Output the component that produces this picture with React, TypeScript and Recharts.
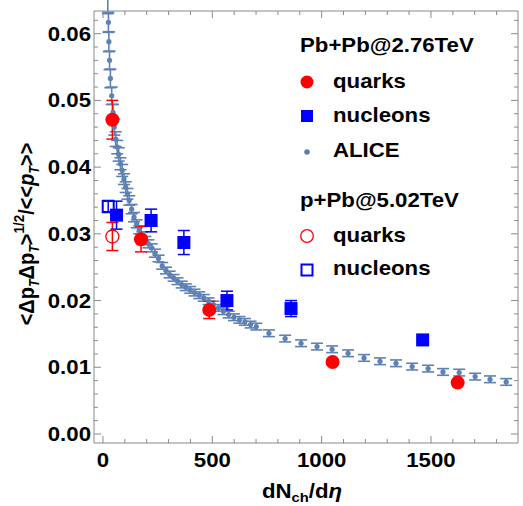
import React from 'react'
import { ScatterChart, Scatter, XAxis, YAxis, ErrorBar } from 'recharts'

// ALICE Pb+Pb@2.76TeV
const aliceX = [
  22, 25, 27, 30, 34, 40, 46, 52, 58, 65, 72, 80, 88, 96, 104, 112, 120, 131, 142, 154,
  166, 180, 194, 208, 223, 238, 254, 271, 288, 305, 323, 341, 360, 379, 399, 419, 440,
  461, 483, 505, 528, 551, 575, 599, 624, 649, 675, 701,
  759, 833, 906, 979, 1048, 1121, 1194, 1267, 1340, 1414, 1487, 1555, 1629, 1702, 1770, 1844,
]
const aliceY = [
  0.0645, 0.0617, 0.0588, 0.056, 0.0533, 0.0507, 0.0482, 0.046, 0.0442, 0.043, 0.0419,
  0.0405, 0.0395, 0.0382, 0.037, 0.036, 0.035, 0.0337, 0.0325, 0.0315, 0.0306, 0.0297,
  0.029, 0.0285, 0.0279, 0.0271, 0.0263, 0.0252, 0.0245, 0.0239, 0.0234, 0.0229, 0.0224,
  0.022, 0.0216, 0.0212, 0.0208, 0.0204, 0.0199, 0.0194, 0.0189, 0.0184, 0.0179, 0.0175,
  0.0171, 0.0168, 0.0164, 0.0161,
  0.0151, 0.0143, 0.0136, 0.0131, 0.0127, 0.0121, 0.0114, 0.0109, 0.0106, 0.0101, 0.0098,
  0.0093, 0.0092, 0.0086, 0.0082, 0.0078,
]
const aliceErr = [
  0.0015, 0.0015, 0.0015, 0.0014, 0.0014, 0.0013, 0.0012, 0.0012, 0.0011, 0.001, 0.001,
  0.0009, 0.0009, 0.0008, 0.0008, 0.0008, 0.0007, 0.0007, 0.0007, 0.0006, 0.0006, 0.0006,
  0.0006, 0.0006, 0.0006, 0.0006, 0.0005, 0.0005, 0.0005, 0.0005, 0.0005, 0.0005, 0.0005,
  0.0005, 0.0005, 0.0005, 0.0005, 0.0005, 0.0005, 0.0005, 0.0005, 0.0005, 0.0005, 0.0005,
  0.0005, 0.0005, 0.0005, 0.0005,
  0.0005, 0.0005, 0.0005, 0.0005, 0.0005, 0.0005, 0.0005, 0.0005, 0.0005, 0.0005, 0.0005,
  0.0005, 0.0005, 0.0005, 0.0005, 0.0005,
]

// model, Pb+Pb@2.76TeV
const quarksPbX   = [43, 174, 486, 1050, 1622]
const quarksPbY   = [0.0471, 0.0292, 0.0186, 0.0108, 0.0077]
const quarksPbErr = [0.0029, 0.0019, 0.0013, 0, 0]

const nucleonsPbX   = [62, 220, 370, 567, 860, 1462]
const nucleonsPbY   = [0.0328, 0.032, 0.0287, 0.02, 0.0188, 0.0141]
const nucleonsPbErr = [0.0021, 0.0017, 0.0018, 0.0014, 0.0012, 0.0003]

// model, p+Pb@5.02TeV
const quarksPX   = [43]
const quarksPY   = [0.0296]
const quarksPErr = [0.0021]

const nucleonsPX   = [24]
const nucleonsPY   = [0.0341]
const nucleonsPErr = [0.0009]

const xMajor = [0, 500, 1000, 1500]
const xMinor = [100, 200, 300, 400, 600, 700, 800, 900, 1100, 1200, 1300, 1400, 1600, 1700, 1800]
const yMajor = [0, 0.01, 0.02, 0.03, 0.04, 0.05, 0.06]
const yMinor = [
  0.002, 0.004, 0.006, 0.008, 0.012, 0.014, 0.016, 0.018, 0.022, 0.024, 0.026, 0.028,
  0.032, 0.034, 0.036, 0.038, 0.042, 0.044, 0.046, 0.048, 0.052, 0.054, 0.056, 0.058, 0.062,
]

const W = 523
const H = 506
const PL = 94
const PR = 518
const PT = 11
const PB = 443

const FRAME = '#8a8a8a'
const ALICE = '#5e81b5'
const RED   = '#ff0000'
const BLUE  = '#0000ff'
const FONT  = '"Liberation Sans", Arial, sans-serif'
const SX    = 1.14

const zip = (xs: number[], ys: number[], es: number[]) =>
  xs.map((x, i) => ({ x, y: ys[i], err: es[i] }))

const aliceData      = zip(aliceX, aliceY, aliceErr)
const quarksPbData   = zip(quarksPbX, quarksPbY, quarksPbErr)
const nucleonsPbData = zip(nucleonsPbX, nucleonsPbY, nucleonsPbErr)
const quarksPData    = zip(quarksPX, quarksPY, quarksPErr)
const nucleonsPData  = zip(nucleonsPX, nucleonsPY, nucleonsPErr)

const isMajor = (list: number[], v: number) => list.some(m => Math.abs(m - v) < 1e-9)

function Txt({ x, y, anchor = 'start', size = 19.5, children }: any) {
  return (
    <text
      transform={`translate(${x},${y}) scale(${SX},1)`}
      textAnchor={anchor}
      fontFamily={FONT}
      fontWeight="bold"
      fontSize={size}
      fill="#000"
    >
      {children}
    </text>
  )
}

const LeftTick = ({ y, payload }: any) => {
  const major = isMajor(yMajor, payload.value)
  return (
    <g>
      <line x1={PL} x2={PL + (major ? 7 : 4)} y1={y} y2={y} stroke={FRAME} />
      {major && <Txt x={91} y={y + 7} anchor="end">{payload.value.toFixed(2)}</Txt>}
    </g>
  )
}

const RightTick = ({ y, payload }: any) => {
  const major = isMajor(yMajor, payload.value)
  return <line x1={PR} x2={PR - (major ? 7 : 4)} y1={y} y2={y} stroke={FRAME} />
}

const BottomTick = ({ x, payload }: any) => {
  const major = isMajor(xMajor, payload.value)
  return (
    <g>
      <line x1={x} x2={x} y1={PB} y2={PB - (major ? 7 : 4)} stroke={FRAME} />
      {major && <Txt x={x} y={467} anchor="middle">{String(payload.value)}</Txt>}
    </g>
  )
}

const TopTick = ({ x, payload }: any) => {
  const major = isMajor(xMajor, payload.value)
  return <line x1={x} x2={x} y1={PT} y2={PT + (major ? 7 : 4)} stroke={FRAME} />
}

const AliceDot = ({ cx, cy }: any) => <circle cx={cx} cy={cy} r={2.6} fill={ALICE} />
const RedDot = ({ cx, cy }: any) => <circle cx={cx} cy={cy} r={7} fill={RED} />
const BlueBox = ({ cx, cy }: any) => <rect x={cx - 6.5} y={cy - 6.5} width={13} height={13} fill={BLUE} />
const RedRing = ({ cx, cy }: any) => (
  <circle cx={cx} cy={cy} r={6.5} fill="#fff" fillOpacity={0} stroke={RED} strokeWidth={1.3} />
)
const BlueFrame = ({ cx, cy }: any) => (
  <rect x={cx - 5.5} y={cy - 5.5} width={11} height={11} fill="none" stroke={BLUE} strokeWidth={2} />
)

function Overlay() {
  const sub = { fontSize: 12.5, fontStyle: 'italic' as const }
  return (
    <svg width={W} height={H} style={{ position: 'absolute', left: 0, top: 0, pointerEvents: 'none' }}>
      {/* legend */}
      <Txt x={300} y={52}>Pb+Pb@2.76TeV</Txt>
      <circle cx={307} cy={82} r={6.5} fill={RED} />
      <Txt x={333} y={88}>quarks</Txt>
      <rect x={301} y={110} width={12} height={12} fill={BLUE} />
      <Txt x={333} y={122}>nucleons</Txt>
      <circle cx={307} cy={152} r={2.8} fill={ALICE} />
      <Txt x={333} y={157}>ALICE</Txt>

      <Txt x={300} y={207}>p+Pb@5.02TeV</Txt>
      <circle cx={307} cy={236} r={6.3} fill="none" stroke={RED} strokeWidth={1.3} />
      <Txt x={333} y={242}>quarks</Txt>
      <rect x={301.5} y={264.5} width={11} height={11} fill="none" stroke={BLUE} strokeWidth={2} />
      <Txt x={333} y={275}>nucleons</Txt>

      {/* axis titles */}
      <text
        transform="translate(34,234) rotate(-90) scale(1,1.14)"
        textAnchor="middle"
        fontFamily={FONT}
        fontWeight="bold"
        fontSize={20}
      >
        {'<Δp'}
        <tspan dy={4} {...sub}>T</tspan>
        <tspan dy={-4}>Δp</tspan>
        <tspan dy={4} {...sub}>T</tspan>
        <tspan dy={-4}>{'>'}</tspan>
        <tspan dy={-9} fontSize={13.5}>1/2</tspan>
        <tspan dy={9}>{'/<<'}</tspan>
        <tspan fontStyle="italic">p</tspan>
        <tspan dy={4} {...sub}>T</tspan>
        <tspan dy={-4}>{'>>'}</tspan>
      </text>
      <text
        transform="translate(302,498) scale(1.14,1)"
        textAnchor="middle"
        fontFamily={FONT}
        fontWeight="bold"
        fontSize={19.5}
      >
        dN
        <tspan dy={4} fontSize={13}>ch</tspan>
        <tspan dy={-4}>/d</tspan>
        <tspan fontStyle="italic">η</tspan>
      </text>
    </svg>
  )
}

export default function App() {
  return (
    <div style={{ position: 'absolute', left: 0, top: 0, width: W, height: H, background: '#fff' }}>
      <ScatterChart width={W} height={H} margin={{ top: 0, right: 0, bottom: 0, left: 0 }}>
        <XAxis
          xAxisId="b"
          type="number"
          dataKey="x"
          domain={[-41, 1898]}
          allowDataOverflow
          ticks={[...xMajor, ...xMinor].sort((a, b) => a - b)}
          interval={0}
          height={H - PB}
          axisLine={{ stroke: FRAME }}
          tickLine={false}
          tick={(p: any) => <BottomTick {...p} />}
        />
        <XAxis
          xAxisId="t"
          orientation="top"
          type="number"
          dataKey="x"
          domain={[-41, 1898]}
          allowDataOverflow
          ticks={[...xMajor, ...xMinor].sort((a, b) => a - b)}
          interval={0}
          height={PT}
          axisLine={{ stroke: FRAME }}
          tickLine={false}
          tick={(p: any) => <TopTick {...p} />}
        />
        <YAxis
          yAxisId="l"
          type="number"
          dataKey="y"
          domain={[-0.00135, 0.0634]}
          allowDataOverflow
          ticks={[...yMajor, ...yMinor].sort((a, b) => a - b)}
          interval={0}
          width={PL}
          axisLine={{ stroke: FRAME }}
          tickLine={false}
          tick={(p: any) => <LeftTick {...p} />}
        />
        <YAxis
          yAxisId="r"
          orientation="right"
          type="number"
          dataKey="y"
          domain={[-0.00135, 0.0634]}
          allowDataOverflow
          ticks={[...yMajor, ...yMinor].sort((a, b) => a - b)}
          interval={0}
          width={W - PR}
          axisLine={{ stroke: FRAME }}
          tickLine={false}
          tick={(p: any) => <RightTick {...p} />}
        />

        <Scatter data={aliceData} xAxisId="b" yAxisId="l" shape={AliceDot} isAnimationActive={false}>
          <ErrorBar dataKey="err" direction="y" width={6} stroke={ALICE} strokeWidth={1.6} />
        </Scatter>
        <Scatter data={nucleonsPData} xAxisId="b" yAxisId="l" shape={BlueFrame} isAnimationActive={false}>
          <ErrorBar dataKey="err" direction="y" width={6} stroke={BLUE} strokeWidth={1.5} />
        </Scatter>
        <Scatter data={quarksPData} xAxisId="b" yAxisId="l" shape={RedRing} isAnimationActive={false}>
          <ErrorBar dataKey="err" direction="y" width={6} stroke={RED} strokeWidth={1.5} />
        </Scatter>
        <Scatter data={nucleonsPbData} xAxisId="b" yAxisId="l" shape={BlueBox} isAnimationActive={false}>
          <ErrorBar dataKey="err" direction="y" width={6} stroke={BLUE} strokeWidth={1.5} />
        </Scatter>
        <Scatter data={quarksPbData} xAxisId="b" yAxisId="l" shape={RedDot} isAnimationActive={false}>
          <ErrorBar dataKey="err" direction="y" width={6} stroke={RED} strokeWidth={1.5} />
        </Scatter>
      </ScatterChart>
      <Overlay />
    </div>
  )
}
